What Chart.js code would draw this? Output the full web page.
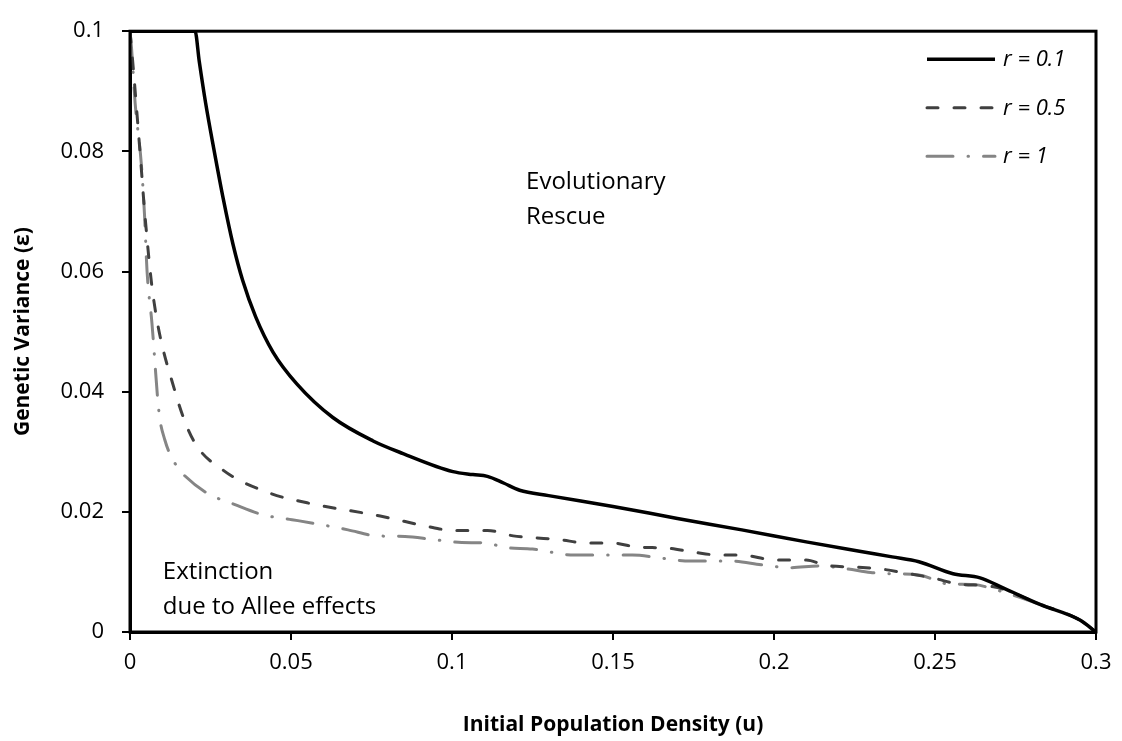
<!DOCTYPE html>
<html>
<head>
<meta charset="utf-8">
<script src="https://cdn.jsdelivr.net/npm/chart.js@4/dist/chart.umd.min.js"></script>
<style>
  body { margin: 0; background: #fff; }
  #wrap { width: 1122px; height: 741px; }
</style>
</head>
<body>
<div id="wrap"><canvas id="myChart" width="1122" height="741"></canvas></div>
<script>
// values
const uR01 = [0, 0.0202, 0.0215, 0.0235, 0.026, 0.029, 0.032, 0.035, 0.039, 0.0444, 0.0518, 0.063,
  0.0755, 0.0848, 0.1003, 0.1065, 0.111, 0.116, 0.121, 0.13, 0.15, 0.17, 0.19, 0.21, 0.227, 0.2367,
  0.245, 0.2556, 0.264, 0.2713, 0.2826, 0.295, 0.3];
const vR01 = [0.1, 0.1, 0.095, 0.088, 0.0805, 0.072, 0.0645, 0.0585, 0.0525, 0.0466, 0.0413, 0.0357,
  0.0318, 0.0297, 0.0267, 0.0262, 0.0259, 0.0248, 0.0236, 0.0227, 0.0209, 0.0189, 0.017, 0.015, 0.0134,
  0.0125, 0.0117, 0.0097, 0.009, 0.0073, 0.0046, 0.002, 0];

const uR05 = [0, 0.0008, 0.0031, 0.0047, 0.0072, 0.014, 0.0196, 0.029, 0.0435, 0.055, 0.0777, 0.094,
  0.1, 0.111, 0.119, 0.125, 0.133, 0.142, 0.15, 0.158, 0.166, 0.175, 0.183, 0.19, 0.2, 0.21, 0.216,
  0.225, 0.233, 0.241, 0.25, 0.257, 0.266, 0.2713, 0.2826, 0.295, 0.3];
const vR05 = [0.1, 0.0952, 0.08, 0.069, 0.0559, 0.04, 0.032, 0.0269, 0.0231, 0.0215, 0.0193, 0.0174,
  0.0169, 0.0169, 0.016, 0.0157, 0.0154, 0.0148, 0.0148, 0.0141, 0.014, 0.0133, 0.0128, 0.0128, 0.012,
  0.012, 0.0111, 0.0108, 0.0105, 0.0098, 0.0089, 0.008, 0.0077, 0.0071, 0.0046, 0.002, 0];

const uR1 = [0, 0.0005, 0.0016, 0.0035, 0.0045, 0.0053, 0.0068, 0.009, 0.0108, 0.0146, 0.017, 0.024,
  0.0326, 0.0413, 0.0503, 0.059, 0.0677, 0.0767, 0.0854, 0.094, 0.103, 0.111, 0.116, 0.125, 0.138,
  0.147, 0.156, 0.165, 0.174, 0.187, 0.196, 0.205, 0.214, 0.2227, 0.23, 0.236, 0.245, 0.254, 0.262,
  0.269, 0.2826, 0.295, 0.3];
const vR1 = [0.1, 0.097, 0.088, 0.078, 0.0695, 0.06, 0.0515, 0.0366, 0.032, 0.0275, 0.026, 0.0231,
  0.0212, 0.0195, 0.0187, 0.0179, 0.017, 0.016, 0.0159, 0.0154, 0.0149, 0.0148, 0.0141, 0.0138, 0.0128,
  0.0128, 0.0128, 0.0123, 0.0118, 0.0118, 0.0112, 0.0107, 0.011, 0.0105, 0.0099, 0.0097, 0.0095, 0.008,
  0.0079, 0.007, 0.0046, 0.002, 0];

const seriesNames = ["r = 0.1", "r = 0.5", "r = 1"];
const xTicks = [0, 0.05, 0.1, 0.15, 0.2, 0.25, 0.3];
const xTickLabels = ["0", "0.05", "0.1", "0.15", "0.2", "0.25", "0.3"];
const yTicks = [0, 0.02, 0.04, 0.06, 0.08, 0.1];
const yTickLabels = ["0", "0.02", "0.04", "0.06", "0.08", "0.1"];

const toPoints = (us, vs) => us.map((u, i) => ({ x: u, y: vs[i] }));

const FONT = "'Open Sans', 'DejaVu Sans', sans-serif";

// box round the plot + legend lines + region labels
const framePlugin = {
  id: "frame",
  afterDraw(chart) {
    const { ctx, chartArea: a, scales } = chart;
    ctx.save();
    ctx.strokeStyle = "#000";
    ctx.lineWidth = 3;
    ctx.strokeRect(a.left, a.top, a.right - a.left, a.bottom - a.top);

    // legend
    chart.data.datasets.forEach((ds, i) => {
      const y = a.top + 28 + i * 48.5;
      ctx.beginPath();
      ctx.strokeStyle = ds.borderColor;
      ctx.lineWidth = ds.borderWidth;
      ctx.lineCap = ds.borderCapStyle || "butt";
      ctx.setLineDash(ds.borderDash || []);
      ctx.moveTo(a.right - 169, y);
      ctx.lineTo(a.right - 101, y);
      ctx.stroke();
      ctx.setLineDash([]);
      ctx.fillStyle = "#000";
      ctx.font = "italic 22px " + FONT;
      ctx.textBaseline = "middle";
      ctx.textAlign = "left";
      ctx.fillText(ds.label, a.right - 93, y + 1);
    });

    // region labels
    ctx.font = "24px " + FONT;
    ctx.fillStyle = "#000";
    ctx.textBaseline = "alphabetic";
    const ex = scales.x.getPixelForValue(0.123), ey = scales.y.getPixelForValue(0.0738);
    ctx.fillText("Evolutionary", ex, ey);
    ctx.fillText("Rescue", ex, ey + 35);
    const kx = scales.x.getPixelForValue(0.0102), ky = scales.y.getPixelForValue(0.00885);
    ctx.fillText("Extinction", kx, ky);
    ctx.fillText("due to Allee effects", kx, ky + 35);
    ctx.restore();
  },
};

const ctx = document.getElementById("myChart");

const myChart = new Chart(ctx, {
  type: "line",
  data: {
    datasets: [
      {
        label: seriesNames[0],
        data: toPoints(uR01, vR01),
        borderColor: "#000000",
        borderWidth: 3.5,
      },
      {
        label: seriesNames[1],
        data: toPoints(uR05, vR05),
        borderColor: "#404040",
        borderWidth: 3,
        borderDash: [11, 16],
        borderCapStyle: "round",
      },
      {
        label: seriesNames[2],
        data: toPoints(uR1, vR1),
        borderColor: "#858585",
        borderWidth: 3,
        borderDash: [26, 15, 0.5, 15],
        borderCapStyle: "round",
      },
    ],
  },
  options: {
    responsive: false,
    animation: false,
    layout: { padding: { top: 22, right: 26, left: 0, bottom: 0 } },
    elements: {
      point: { radius: 0 },
      line: { cubicInterpolationMode: "monotone", fill: false },
    },
    scales: {
      x: {
        type: "linear",
        min: 0,
        max: 0.3,
        afterBuildTicks: (s) => { s.ticks = xTicks.map((v) => ({ value: v })); },
        afterFit: (s) => { s.height = 109; },
        ticks: {
          color: "#000",
          padding: 10,
          maxRotation: 0,
          font: { family: FONT, size: 22 },
          callback: (v, i) => xTickLabels[i],
        },
        grid: { drawOnChartArea: false, drawTicks: true, tickLength: 8, color: "#000", lineWidth: 2 },
        border: { display: true, color: "#000", width: 3 },
        title: {
          display: true,
          text: "Initial Population Density (u)",
          color: "#000",
          font: { family: FONT, size: 21, weight: "bold" },
          padding: { top: 0, bottom: 3 },
        },
      },
      y: {
        type: "linear",
        min: 0,
        max: 0.1,
        afterBuildTicks: (s) => { s.ticks = yTicks.map((v) => ({ value: v })); },
        afterFit: (s) => { s.width = 130; },
        ticks: {
          color: "#000",
          padding: 18,
          font: { family: FONT, size: 22 },
          callback: (v, i) => yTickLabels[i],
        },
        grid: { drawOnChartArea: false, drawTicks: true, tickLength: 8, color: "#000", lineWidth: 2 },
        border: { display: true, color: "#000", width: 3 },
        title: {
          display: true,
          text: "Genetic Variance (ε)",
          color: "#000",
          font: { family: FONT, size: 21, weight: "bold" },
          padding: { top: 10, bottom: 0 },
        },
      },
    },
    plugins: {
      legend: { display: false },
      tooltip: { enabled: false },
    },
  },
  plugins: [framePlugin],
});
</script>
</body>
</html>
